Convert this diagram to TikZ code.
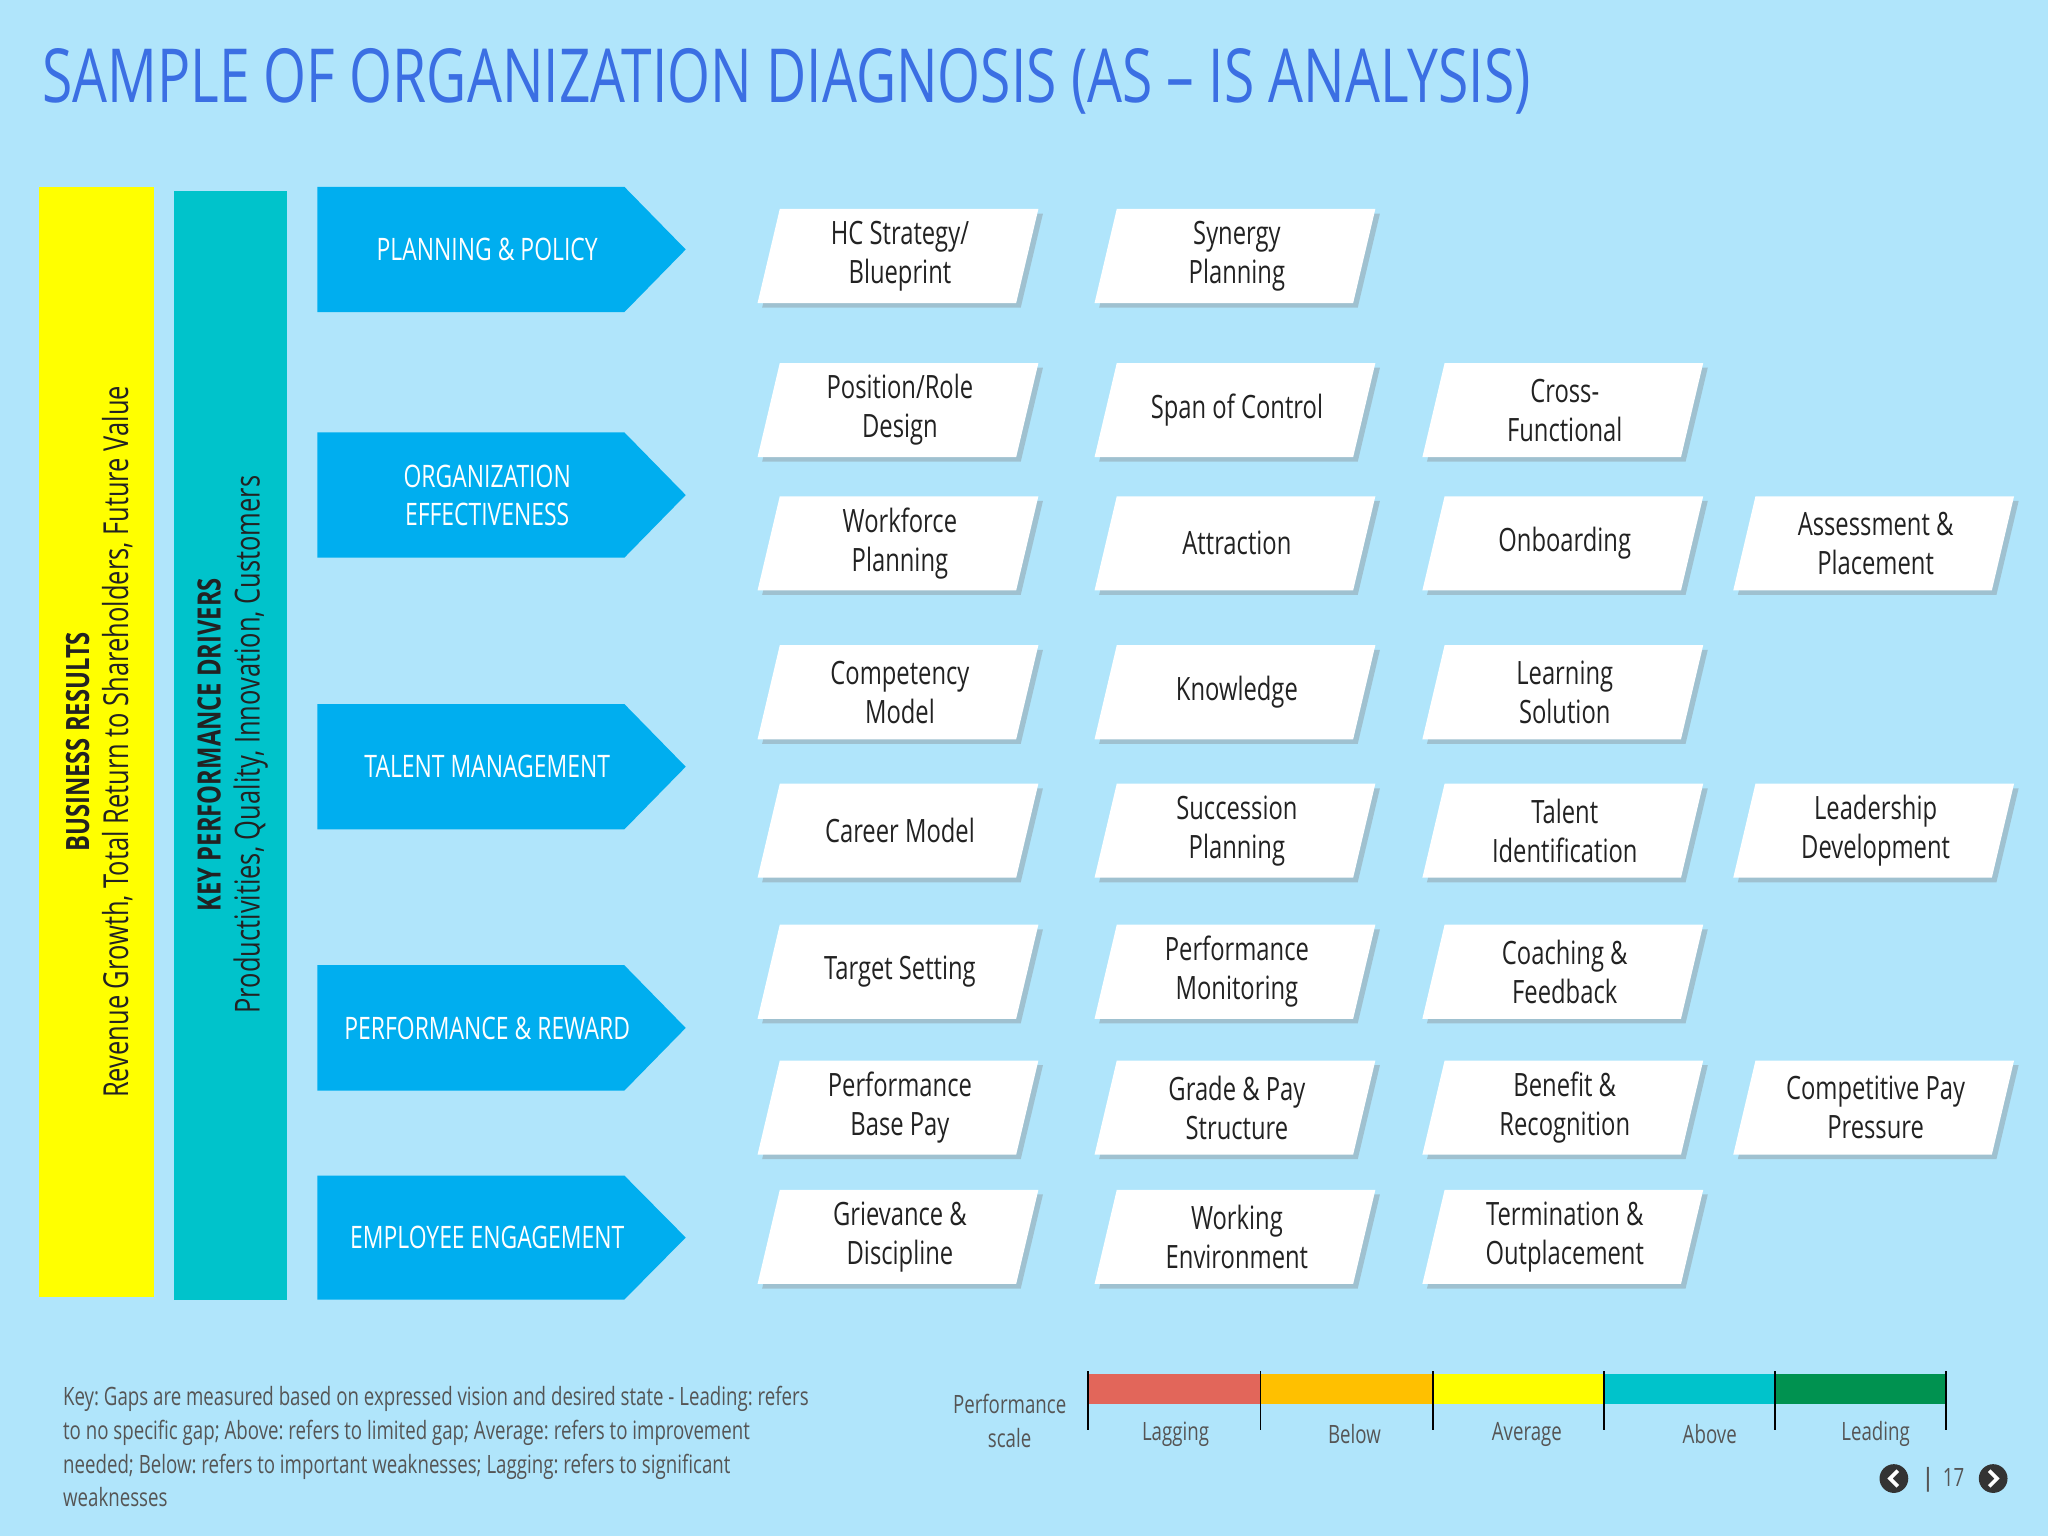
\documentclass[tikz,border=0pt]{standalone}
\usepackage{fontspec}
\setmainfont[FakeStretch=0.74]{Open Sans}
\usetikzlibrary{shadows}
\frenchspacing
\definecolor{bg}{HTML}{B0E5FB}
\definecolor{ttl}{HTML}{3B6FE3}
\definecolor{chev}{HTML}{00AEEF}
\definecolor{teal}{HTML}{00C3CB}
\definecolor{yel}{HTML}{FFFF00}
\definecolor{txt}{HTML}{222222}
\definecolor{gtx}{HTML}{555555}
\definecolor{sred}{HTML}{E2665A}
\definecolor{sorg}{HTML}{FFC000}
\definecolor{sgrn}{HTML}{009250}
\tikzset{
 pbox/.style={fill=white, drop shadow={shadow xshift=2pt,shadow yshift=-2pt,opacity=0.35}},
 ptext/.style={font=\fontsize{14}{17}\selectfont, text=txt, align=center},
 chtext/.style={font=\fontsize{13.5}{16.5}\selectfont, text=white, align=center},
}
\newcommand{\pb}[4]{% name, cx, cy, text
 \fill[pbox] (#2-92,-#3+36) -- (#2+106,-#3+36) -- (#2+89,-#3-36) -- (#2-109,-#3-36) -- cycle;
 \node[ptext] (#1) at (#2,-#3) {#4};}
\newcommand{\chv}[4]{% name, ytop, ybot, text
 \fill[chev] (243,-#2) -- (478,-#2) -- (525,{-(#2+#3)/2}) -- (478,-#3) -- (243,-#3) -- cycle;
 \node[chtext] (#1) at (373,{-(#2+#3)/2}) {#4};}
\begin{document}
\begin{tikzpicture}[x=0.02cm,y=0.02cm]
\useasboundingbox (0,0) rectangle (1568,-1176);
\fill[bg] (0,0) rectangle (1568,-1176);
\node[anchor=west, text=ttl, font=\fontsize{32.5}{36}\selectfont] (title) at (26,-62) {SAMPLE OF ORGANIZATION DIAGNOSIS (AS – IS ANALYSIS)};
\fill[yel] (30,-143) rectangle (118,-993);
\fill[teal] (133,-146) rectangle (220,-995);
\node[rotate=90, align=center, text=txt, font=\fontsize{14}{18}\selectfont] (br) at (76,-568) {\textbf{BUSINESS RESULTS}\\[-1pt]\fontsize{15}{18}\selectfont Revenue Growth, Total Return to Shareholders, Future Value};
\node[rotate=90, align=center, text=txt, font=\fontsize{14}{18}\selectfont] (kd) at (178,-570) {\textbf{KEY PERFORMANCE DRIVERS}\\[-1pt]\fontsize{15}{18}\selectfont Productivities, Quality, Innovation, Customers};
\chv{c1}{143}{239}{PLANNING \& POLICY}
\chv{c2}{331}{427}{ORGANIZATION\\EFFECTIVENESS}
\chv{c3}{539}{635}{TALENT MANAGEMENT}
\chv{c4}{739}{835}{PERFORMANCE \& REWARD}
\chv{c5}{900}{995}{EMPLOYEE ENGAGEMENT}
\pb{a1}{689}{196}{HC Strategy/\\Blueprint}
\pb{a2}{947}{196}{Synergy\\Planning}
\pb{b1}{689}{314}{Position/Role\\Design}
\pb{b2}{947}{314}{Span of Control}
\pb{b3}{1198}{314}{Cross-\\Functional}
\pb{d1}{689}{416}{Workforce\\Planning}
\pb{d2}{947}{416}{Attraction}
\pb{d3}{1198}{416}{Onboarding}
\pb{d4}{1436}{416}{Assessment \&\\Placement}
\pb{e1}{689}{530}{Competency\\Model}
\pb{e2}{947}{530}{Knowledge}
\pb{e3}{1198}{530}{Learning\\Solution}
\pb{f1}{689}{636}{Career Model}
\pb{f2}{947}{636}{Succession\\Planning}
\pb{f3}{1198}{636}{Talent\\Identification}
\pb{f4}{1436}{636}{Leadership\\Development}
\pb{g1}{689}{744}{Target Setting}
\pb{g2}{947}{744}{Performance\\Monitoring}
\pb{g3}{1198}{744}{Coaching \&\\Feedback}
\pb{h1}{689}{848}{Performance\\Base Pay}
\pb{h2}{947}{848}{Grade \& Pay\\Structure}
\pb{h3}{1198}{848}{Benefit \&\\Recognition}
\pb{h4}{1436}{848}{Competitive Pay\\Pressure}
\pb{i1}{689}{947}{Grievance \&\\Discipline}
\pb{i2}{947}{947}{Working\\Environment}
\pb{i3}{1198}{947}{Termination \&\\Outplacement}
\node[anchor=north west, align=left, text=gtx, font=\fontsize{11}{14.7}\selectfont, inner sep=0] (key) at (48,-1061) {Key: Gaps are measured based on expressed vision and desired state - Leading: refers\\to no specific gap; Above: refers to limited gap; Average: refers to improvement\\needed; Below: refers to important weaknesses; Lagging: refers to significant\\weaknesses};
\node[align=center, text=gtx, font=\fontsize{11}{14.5}\selectfont] (ps) at (773,-1088) {Performance\\scale};
\fill[sred] (833,-1052) rectangle (965,-1075);
\fill[sorg] (965,-1052) rectangle (1097,-1075);
\fill[yel] (1097,-1052) rectangle (1228,-1075);
\fill[teal] (1228,-1052) rectangle (1359,-1075);
\fill[sgrn] (1359,-1052) rectangle (1490,-1075);
\foreach \x in {833,965,1097,1228,1359,1490} \draw[black, line width=0.8pt] (\x,-1050) -- (\x,-1095);
\foreach \n/\x/\t in {s1/900/Lagging,s2/1037/Below,s3/1169/Average,s4/1309/Above,s5/1436/Leading}
  \node[text=gtx, font=\fontsize{11}{14}\selectfont] (\n) at (\x,-1098) {\t};
\fill[darkgray!80!black] (1450,-1132) circle (11);
\draw[white, line width=1.6pt] (1453,-1126) -- (1447,-1132) -- (1453,-1138);
\node[text=gtx, font=\fontsize{11}{14}\selectfont] (pg) at (1488,-1133) {\textbf{|}\ \ 17};
\fill[darkgray!80!black] (1526,-1132) circle (11);
\draw[white, line width=1.6pt] (1523,-1126) -- (1529,-1132) -- (1523,-1138);
\end{tikzpicture}
\end{document}
